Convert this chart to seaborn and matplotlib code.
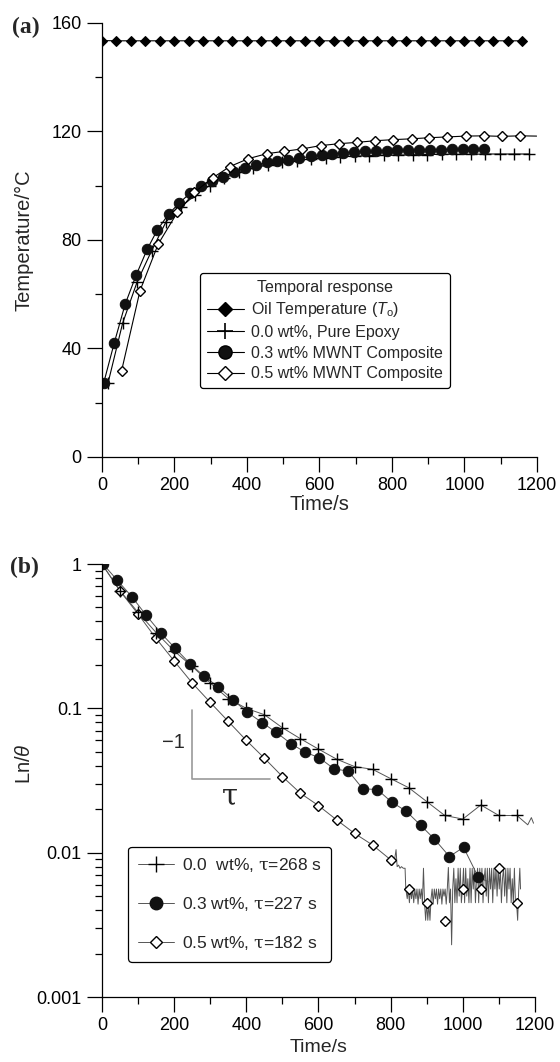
import numpy as np
import pandas as pd
import matplotlib
matplotlib.use("Agg")
import matplotlib.pyplot as plt
import seaborn as sns
from matplotlib.lines import Line2D
from matplotlib.ticker import MultipleLocator, FixedLocator, NullFormatter

# ---------------- data: panel (a) ----------------
oil_t = [0, 40, 80, 120, 160, 200, 240, 280, 320, 360, 400, 440, 480, 520, 560,
         600, 640, 680, 720, 760, 800, 840, 880, 920, 960, 1000, 1040, 1080, 1120, 1160]
oil_v = [153.4, 153.3, 153.3, 153.3, 153.3, 153.3, 153.3, 153.3, 153.3, 153.3,
         153.3, 153.3, 153.3, 153.3, 153.3, 153.3, 153.3, 153.3, 153.3, 153.3,
         153.3, 153.3, 153.3, 153.3, 153.3, 153.3, 153.3, 153.3, 153.3, 153.3]

a00_t = [17, 57, 97, 137, 177, 217, 257, 297, 337, 377, 417, 457, 497, 537, 577,
         617, 657, 697, 737, 777, 817, 857, 897, 937, 977, 1017, 1057, 1097, 1137, 1177]
a00_v = [27.4, 49.3, 64.5, 76.0, 86.7, 92.0, 96.5, 100.0, 102.8, 104.8, 106.4, 107.6,
         108.5, 109.2, 109.8, 110.2, 110.5, 110.8, 111.0, 111.1, 111.2, 111.3, 111.4,
         111.5, 111.5, 111.5, 111.6, 111.6, 111.6, 111.6]

a03_t = [5, 34, 64, 95, 125, 153, 184, 213, 243, 273, 303, 335, 364, 394, 425, 454,
         484, 514, 544, 576, 606, 635, 666, 695, 725, 755, 785, 814, 845, 875, 905,
         935, 965, 995, 1024, 1054]
a03_v = [27.4, 42.1, 56.3, 67.2, 76.6, 83.7, 89.5, 93.5, 97.2, 100.0, 101.8, 103.3,
         104.8, 106.4, 107.4, 108.5, 109.1, 109.5, 110.1, 110.7, 111.1, 111.7, 112.0,
         112.3, 112.6, 112.6, 112.8, 112.9, 113.0, 113.1, 113.1, 113.2, 113.3, 113.4,
         113.4, 113.5]

a05_t = [54, 105, 155, 208, 255, 305, 353, 404, 454, 503, 553, 603, 654, 704, 754,
         804, 854, 902, 953, 1003, 1054, 1103, 1153]
a05_v = [31.7, 61.3, 78.4, 90.1, 97.5, 102.8, 107.0, 109.9, 111.7, 112.6, 113.5,
         114.7, 115.4, 115.9, 116.5, 116.9, 117.2, 117.6, 117.9, 118.2, 118.3, 118.1, 118.3]
a05_tail_t = [1199]
a05_tail_v = [118.2]

# ---------------- data: panel (b) ----------------
b00_t = [0, 50, 100, 150, 200, 250, 300, 350, 400, 450, 500, 550, 600, 650, 700,
         750, 800, 850, 900, 950, 1000, 1050, 1100, 1150]
b00_v = [1.0, 0.653, 0.462, 0.335, 0.25, 0.195, 0.150, 0.117, 0.100, 0.0904, 0.0734,
         0.0616, 0.0522, 0.0445, 0.0395, 0.0378, 0.0326, 0.0282, 0.0226, 0.0181,
         0.0171, 0.0214, 0.0181, 0.0181]
b00_tail_t = [1165, 1180, 1190, 1196]
b00_tail_v = [0.0168, 0.0156, 0.0175, 0.0160]

b03_t = [3, 42, 83, 122, 163, 202, 244, 283, 322, 364, 403, 444, 482, 524, 563, 602,
         643, 683, 723, 763, 803, 843, 883, 921, 963, 1002, 1043]
b03_v = [1.0, 0.774, 0.593, 0.443, 0.333, 0.262, 0.204, 0.167, 0.141, 0.114, 0.094,
         0.0796, 0.0685, 0.0569, 0.0497, 0.0455, 0.0381, 0.0367, 0.0277, 0.0274,
         0.0224, 0.0194, 0.0155, 0.01245, 0.0094, 0.0109, 0.00676]
b03_tail_t = [1070]
b03_tail_v = [0.0063]

b05_t = [0, 50, 100, 150, 200, 250, 300, 350, 400, 450, 500, 550, 600, 650, 700,
         750, 800, 850, 900, 950, 1000, 1050, 1100, 1150]
b05_v = [1.0, 0.65, 0.45, 0.305, 0.213, 0.15, 0.11, 0.0813, 0.06, 0.0452, 0.0337,
         0.0258, 0.0212, 0.0169, 0.0136, 0.0113, 0.00893, 0.0056, 0.00448, 0.00337,
         0.0056, 0.0056, 0.00783, 0.00448]
# noisy measured trace of the 0.5 wt% sample after 800 s
b05_noise_t = [805, 810, 815, 818, 822, 826, 830, 835, 840, 842, 846, 849, 852, 855,
               858, 861, 864, 867, 870, 873, 876, 879, 882, 885, 888, 891, 894, 897,
               900, 903, 906, 909, 912, 915, 918, 921, 924, 927, 930, 933, 936, 939,
               942, 945, 948, 951, 954, 957, 960, 963, 966, 969, 972, 975, 978, 981,
               984, 987, 990, 993, 996, 999, 1002, 1005, 1008, 1011, 1014, 1017, 1020,
               1023, 1026, 1029, 1032, 1035, 1038, 1041, 1044, 1047, 1050, 1053, 1056,
               1059, 1062, 1065, 1068, 1071, 1074, 1077, 1080, 1083, 1086, 1089, 1092,
               1095, 1098, 1101, 1104, 1107, 1110, 1113, 1116, 1119, 1122, 1125, 1128,
               1131, 1134, 1137, 1140, 1143, 1146, 1149, 1152, 1155, 1158, 1160]
b05_noise_v = [0.0082, 0.0086, 0.0105, 0.0080, 0.0082, 0.0078, 0.0080, 0.0078, 0.0078,
               0.0056, 0.0048, 0.0056, 0.0045, 0.0056, 0.0048, 0.0056, 0.0045, 0.0056,
               0.0048, 0.0056, 0.0044, 0.0056, 0.0048, 0.0056, 0.0045, 0.0078, 0.0045,
               0.0034, 0.0045, 0.0034, 0.0044, 0.0034, 0.0048, 0.0056, 0.0044, 0.0056,
               0.0048, 0.0056, 0.0044, 0.0056, 0.0048, 0.0056, 0.0044, 0.0056, 0.0050,
               0.0056, 0.0044, 0.0056, 0.0079, 0.0045, 0.0056, 0.0023, 0.0056, 0.0078,
               0.0045, 0.0066, 0.0045, 0.0078, 0.0050, 0.0078, 0.0045, 0.0056, 0.0078,
               0.0045, 0.0078, 0.0050, 0.0066, 0.0045, 0.0078, 0.0045, 0.0078, 0.0056,
               0.0078, 0.0045, 0.0066, 0.0078, 0.0045, 0.0078, 0.0056, 0.0078, 0.0045,
               0.0066, 0.0078, 0.0050, 0.0078, 0.0045, 0.0078, 0.0056, 0.0078, 0.0045,
               0.0078, 0.0056, 0.0078, 0.0050, 0.0078, 0.0056, 0.0078, 0.0045, 0.0066,
               0.0078, 0.0050, 0.0078, 0.0045, 0.0078, 0.0056, 0.0078, 0.0045, 0.0066,
               0.0045, 0.0078, 0.0044, 0.0045, 0.0034, 0.0056, 0.0078, 0.0056]

# slope triangle annotation (panel b)
slope_x = [250, 250, 465]
slope_y = [0.097, 0.0322, 0.0322]

labels_a = ["Oil Temperature ($T_\\mathsf{o}$)", "0.0 wt%, Pure Epoxy",
            "0.3 wt% MWNT Composite", "0.5 wt% MWNT Composite"]
labels_b = ["0.0  wt%, $\\mathrm{\\tau}$=268 s", "0.3 wt%, $\\mathrm{\\tau}$=227 s",
            "0.5 wt%, $\\mathrm{\\tau}$=182 s"]

# ---------------- style ----------------
sns.set_theme(style="ticks")
plt.rcParams['font.family'] = ['Liberation Sans', 'DejaVu Sans']
plt.rcParams['mathtext.fontset'] = 'custom'
plt.rcParams['mathtext.rm'] = 'DejaVu Serif'
plt.rcParams['mathtext.sf'] = 'Liberation Sans'
plt.rcParams['mathtext.it'] = 'Liberation Sans:italic'
plt.rcParams['axes.linewidth'] = 0.9

fig = plt.figure(figsize=(5.6, 10.62), dpi=100)
axa = fig.add_axes([0.1821, 0.5697, 0.7768, 0.4090])
axb = fig.add_axes([0.1821, 0.0612, 0.7732, 0.4077])

LW = 0.8

def plot_series(ax, t, v, **kw):
    sns.lineplot(x=t, y=v, ax=ax, estimator=None, sort=False, **kw)

# ---- panel (a) ----
plot_series(axa, oil_t, oil_v, color='black', lw=LW, marker='D', ms=5,
            mfc='black', mec='black')
plot_series(axa, a00_t, a00_v, color='black', lw=LW, marker='+', ms=8,
            mew=1.0, mec='black')
plot_series(axa, a03_t, a03_v, color='black', lw=LW, marker='o', ms=7.5,
            mfc='#111111', mec='#111111')
plot_series(axa, a05_t + a05_tail_t, a05_v + a05_tail_v, color='black', lw=LW)
plot_series(axa, a05_t, a05_v, color='black', lw=0, marker='D', ms=5.2,
            mfc='white', mec='black', mew=1.0)

axa.set_xlim(0, 1200)
axa.set_ylim(0, 160)
axa.xaxis.set_major_locator(MultipleLocator(200))
axa.xaxis.set_minor_locator(MultipleLocator(100))
axa.yaxis.set_major_locator(MultipleLocator(40))
axa.yaxis.set_minor_locator(MultipleLocator(20))
axa.set_xlabel("Time/s", fontsize=14.5)
axa.set_ylabel("Temperature/°C", fontsize=14.5)
axa.xaxis.set_label_coords(0.5, -0.088)
axa.yaxis.set_label_coords(-0.158, 0.5)

ha = [Line2D([], [], color='black', lw=LW, marker='D', ms=7, mfc='black'),
      Line2D([], [], color='black', lw=LW, marker='+', ms=11, mew=1.2),
      Line2D([], [], color='black', lw=LW, marker='o', ms=9.5, mfc='#111111'),
      Line2D([], [], color='black', lw=LW, marker='D', ms=7, mfc='white', mew=1.0)]
leg_a = axa.legend(ha, labels_a, title="Temporal response", loc='upper left',
                   bbox_to_anchor=(0.225, 0.4244), borderaxespad=0, fontsize=11.5,
                   title_fontsize=11.5, frameon=True, fancybox=True, handlelength=2.3,
                   handletextpad=0.45, labelspacing=0.35, borderpad=0.45)
leg_a.get_frame().set_edgecolor('black')
leg_a.get_frame().set_linewidth(0.9)
leg_a.get_frame().set_alpha(1)

# ---- panel (b) ----
GRAY = '#555555'
plot_series(axb, b00_t + b00_tail_t, b00_v + b00_tail_v, color=GRAY, lw=0.7)
plot_series(axb, b03_t + b03_tail_t, b03_v + b03_tail_v, color=GRAY, lw=0.7)
plot_series(axb, b05_t[:17] + b05_noise_t, b05_v[:17] + b05_noise_v, color=GRAY, lw=0.7)
plot_series(axb, b05_t, b05_v, color='black', lw=0, marker='D', ms=4.6,
            mfc='white', mec='black', mew=1.0)
plot_series(axb, b00_t, b00_v, color='black', lw=0, marker='+', ms=8,
            mew=1.0, mec='black')
plot_series(axb, b03_t, b03_v, color='black', lw=0, marker='o', ms=7.5,
            mfc='#111111', mec='#111111')

axb.set_yscale('log')
axb.set_xlim(0, 1200)
axb.set_ylim(0.001, 1)
axb.xaxis.set_major_locator(MultipleLocator(200))
axb.xaxis.set_minor_locator(MultipleLocator(100))
axb.set_yticks([0.001, 0.01, 0.1, 1], labels=['0.001', '0.01', '0.1', '1'])
minor_b = [m * d for d in (0.001, 0.01, 0.1) for m in (2, 3, 4, 5, 6, 7, 8, 9)]
axb.yaxis.set_minor_locator(FixedLocator(minor_b))
axb.yaxis.set_minor_formatter(NullFormatter())
axb.set_xlabel("Time/s", fontsize=14)
axb.set_ylabel("Ln/$\\theta$", fontsize=14.5)
axb.xaxis.set_label_coords(0.5, -0.098)
axb.yaxis.set_label_coords(-0.158, 0.54)

axb.plot(slope_x, slope_y, color='#999999', lw=1.2)
axb.text(197, 0.058, "\u22121", ha='center', va='center', fontsize=14.5)
axb.text(355, 0.0245, "\u03c4", ha='center', va='center', fontsize=21,
         family='DejaVu Serif')

hb = [Line2D([], [], color=GRAY, lw=0.7, marker='+', ms=11, mew=1.0, mec='black'),
      Line2D([], [], color=GRAY, lw=0.7, marker='o', ms=9, mfc='#111111', mec='#111111'),
      Line2D([], [], color=GRAY, lw=0.7, marker='D', ms=6.5, mfc='white', mec='black', mew=1.0)]
leg_b = axb.legend(hb, labels_b, loc='upper left', bbox_to_anchor=(0.0607, 0.347),
                   borderaxespad=0, fontsize=12.5, frameon=True, fancybox=True,
                   handlelength=2.1, handletextpad=0.42, labelspacing=1.2,
                   borderpad=0.55)
leg_b.get_frame().set_edgecolor('black')
leg_b.get_frame().set_linewidth(0.9)
leg_b.get_frame().set_alpha(1)

for ax in (axa, axb):
    sns.despine(ax=ax)
    ax.tick_params(which='major', direction='out', length=10.5, width=0.9,
                   labelsize=13, pad=4, colors='black')
    ax.tick_params(which='minor', direction='out', length=5.2, width=0.9, colors='black')
    for s in ('left', 'bottom'):
        ax.spines[s].set_color('black')
        ax.spines[s].set_linewidth(0.9)

fig.text(0.021, 0.9746, "(a)", fontsize=17, fontweight='bold',
         family='Liberation Serif', ha='left', va='center')
fig.text(0.018, 0.466, "(b)", fontsize=17, fontweight='bold',
         family='Liberation Serif', ha='left', va='center')

fig.savefig("out.png", dpi=100, facecolor='white')
